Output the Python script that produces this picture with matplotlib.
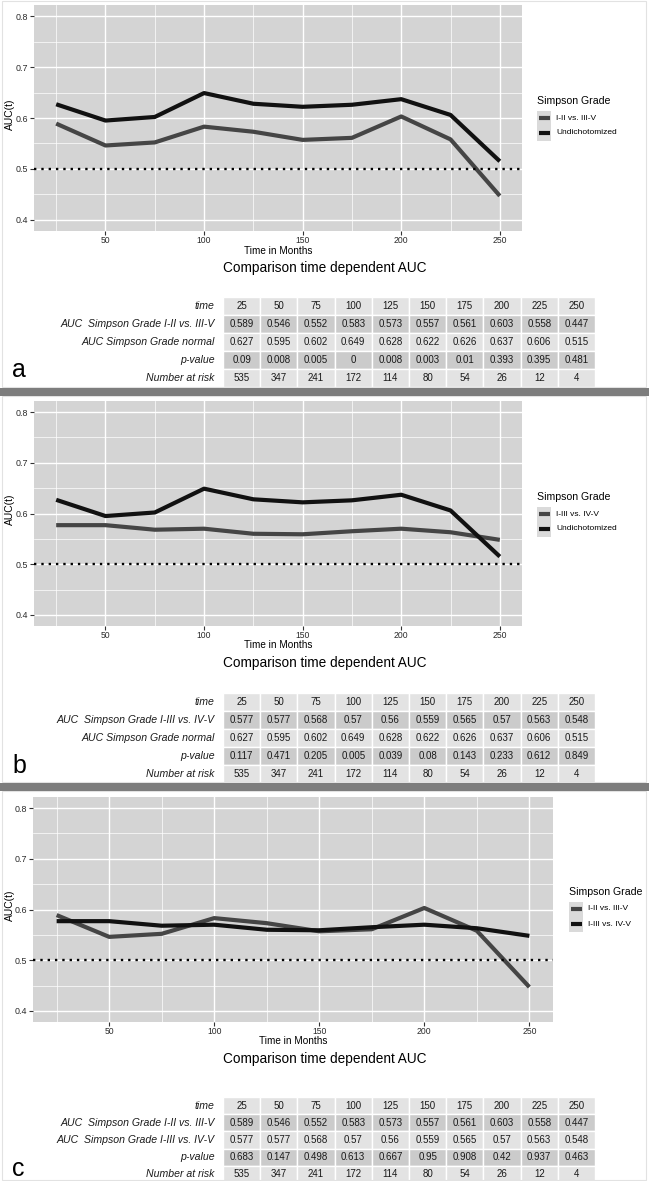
import matplotlib
matplotlib.use("Agg")
import matplotlib.pyplot as plt
from matplotlib.patches import Rectangle
from matplotlib.lines import Line2D
from matplotlib.transforms import Affine2D

plt.rcParams["font.family"] = ["Liberation Sans", "DejaVu Sans"]

time = [25, 50, 75, 100, 125, 150, 175, 200, 225, 250]
auc_12_vs_35 = [0.589, 0.546, 0.552, 0.583, 0.573, 0.557, 0.561, 0.603, 0.558, 0.447]
auc_13_vs_45 = [0.577, 0.577, 0.568, 0.57, 0.56, 0.559, 0.565, 0.57, 0.563, 0.548]
auc_normal = [0.627, 0.595, 0.602, 0.649, 0.628, 0.622, 0.626, 0.637, 0.606, 0.515]
p_a = [0.09, 0.008, 0.005, 0, 0.008, 0.003, 0.01, 0.393, 0.395, 0.481]
p_b = [0.117, 0.471, 0.205, 0.005, 0.039, 0.08, 0.143, 0.233, 0.612, 0.849]
p_c = [0.683, 0.147, 0.498, 0.613, 0.667, 0.95, 0.908, 0.42, 0.937, 0.463]
at_risk = [535, 347, 241, 172, 114, 80, 54, 26, 12, 4]

lab_12 = "I-II vs. III-V"
lab_13 = "I-III vs. IV-V"
lab_und = "Undichotomized"

W, H = 649, 1181
fig = plt.figure(figsize=(W / 100, H / 100), dpi=100)
fig.patch.set_facecolor("white")
pix = Affine2D().scale(1 / W, -1 / H).translate(0, 1) + fig.transFigure

PANEL_BG = "#d4d4d4"
DARK = "#111111"
GREY = "#454545"
CELL_LIGHT = "#e3e3e3"
CELL_DARK = "#cbcbcb"


def box(x0, y0, x1, y1):
    return [x0 / W, 1 - y1 / H, (x1 - x0) / W, (y1 - y0) / H]


def auc_plot(rect, series, legend_xy, label_x):
    x0, y0, x1, y1 = rect
    ax = fig.add_axes(box(*rect))
    ax.set_facecolor(PANEL_BG)
    for s in ax.spines.values():
        s.set_visible(False)
    ax.set_xlim(13.75, 261.25)
    ax.set_ylim(0.378, 0.822)
    ax.set_xticks([50, 100, 150, 200, 250])
    ax.set_xticks([25, 75, 125, 175, 225], minor=True)
    ax.set_yticks([0.4, 0.5, 0.6, 0.7, 0.8])
    ax.set_yticklabels(["0.4", "0.5", "0.6", "0.7", "0.8"])
    ax.set_yticks([0.45, 0.55, 0.65, 0.75], minor=True)
    ax.grid(which="major", color="white", lw=1.0)
    ax.grid(which="minor", color="white", lw=0.5)
    ax.set_axisbelow(True)
    ax.tick_params(which="major", length=3, width=0.8, color="#333333",
                   labelsize=6.4, labelcolor="#2a2a2a", pad=1.5)
    ax.tick_params(axis="x", which="major", labelsize=6.2, pad=0.8)
    ax.tick_params(which="minor", length=0)
    for vals, col, _ in series:
        ax.plot(time, vals, color=col, lw=3.0, solid_capstyle="butt",
                solid_joinstyle="round")
    ax.axhline(0.5, color="black", lw=1.7, linestyle=(0, (1, 2.1)))

    fig.text(10, (y0 + y1) / 2 - 4, "AUC(t)", transform=pix, rotation=90,
             ha="center", va="center", fontsize=7.4)
    fig.text((x0 + x1) / 2, y1 + 19.5, "Time in Months", transform=pix,
             ha="center", va="center", fontsize=7.2)
    fig.text(325, y1 + 37, "Comparison time dependent AUC", transform=pix,
             ha="center", va="center", fontsize=9.8)

    lx, ly = legend_xy
    fig.text(lx, ly, "Simpson Grade", transform=pix, ha="left", va="center",
             fontsize=7.6)
    for k, (_, col, lab) in enumerate(series):
        ky = ly + 17 + 15 * k
        fig.add_artist(Rectangle((lx, ky - 7.5), 14, 15, transform=pix,
                                 facecolor="#dadada", edgecolor="none"))
        fig.add_artist(Line2D([lx + 1.5, lx + 12.5], [ky, ky], transform=pix,
                              color=col, lw=3.0, solid_capstyle="butt"))
        fig.text(label_x, ky, lab, transform=pix, ha="left", va="center",
                 fontsize=6)
    return ax


def auc_table(top, row_labels, rows, row_h=18):
    ax = fig.add_axes(box(223, top, 595, top + 5 * row_h))
    ax.set_xlim(-0.5, 9.5)
    ax.set_ylim(4.5, -0.5)
    ax.axis("off")
    for r, vals in enumerate(rows):
        col = CELL_DARK if r % 2 == 1 else CELL_LIGHT
        for c, v in enumerate(vals):
            ax.add_patch(Rectangle((c - 0.5, r - 0.5), 1, 1, facecolor=col,
                                   edgecolor="white", lw=1.0))
            ax.text(c, r, str(v), ha="center", va="center", fontsize=7.0,
                    color="#1a1a1a")
        ax.text(-0.72, r, row_labels[r], ha="right", va="center", fontsize=7.6,
                style="italic", color="#1a1a1a", clip_on=False)
    return ax


def frame(y0, y1):
    fig.add_artist(Rectangle((2, y0), 644, y1 - y0, transform=pix,
                             facecolor="none", edgecolor="#e2e2e2", lw=0.8))


# ---- panel a
frame(1, 387)
auc_plot((34, 5, 522, 231),
         [(auc_12_vs_35, GREY, lab_12), (auc_normal, DARK, lab_und)],
         (537, 101), 556)
auc_table(297, ["time", "AUC  Simpson Grade I-II vs. III-V",
                "AUC Simpson Grade normal", "p-value", "Number at risk"],
          [time, auc_12_vs_35, auc_normal, p_a, at_risk])
fig.text(12, 377, "a", transform=pix, ha="left", va="baseline", fontsize=18)

# ---- panel b
frame(396, 782)
auc_plot((34, 401, 522, 626),
         [(auc_13_vs_45, GREY, lab_13), (auc_normal, DARK, lab_und)],
         (537, 497), 556)
auc_table(693, ["time", "AUC  Simpson Grade I-III vs. IV-V",
                "AUC Simpson Grade normal", "p-value", "Number at risk"],
          [time, auc_13_vs_45, auc_normal, p_b, at_risk])
fig.text(12, 773, "b", transform=pix, ha="left", va="baseline", fontsize=18)

# ---- panel c
frame(791, 1180)
auc_plot((33, 797, 553, 1022),
         [(auc_12_vs_35, GREY, lab_12), (auc_13_vs_45, DARK, lab_13)],
         (569, 892), 588)
auc_table(1097, ["time", "AUC  Simpson Grade I-II vs. III-V",
                 "AUC  Simpson Grade I-III vs. IV-V", "p-value", "Number at risk"],
          [time, auc_12_vs_35, auc_13_vs_45, p_c, at_risk], row_h=17.2)
fig.text(12, 1176, "c", transform=pix, ha="left", va="baseline", fontsize=18)

# separators between panels
for y in (388, 783):
    fig.add_artist(Rectangle((0, y), W, 8, transform=pix,
                             facecolor="#7d7d7d", edgecolor="none"))

fig.savefig("out.png", dpi=100)
